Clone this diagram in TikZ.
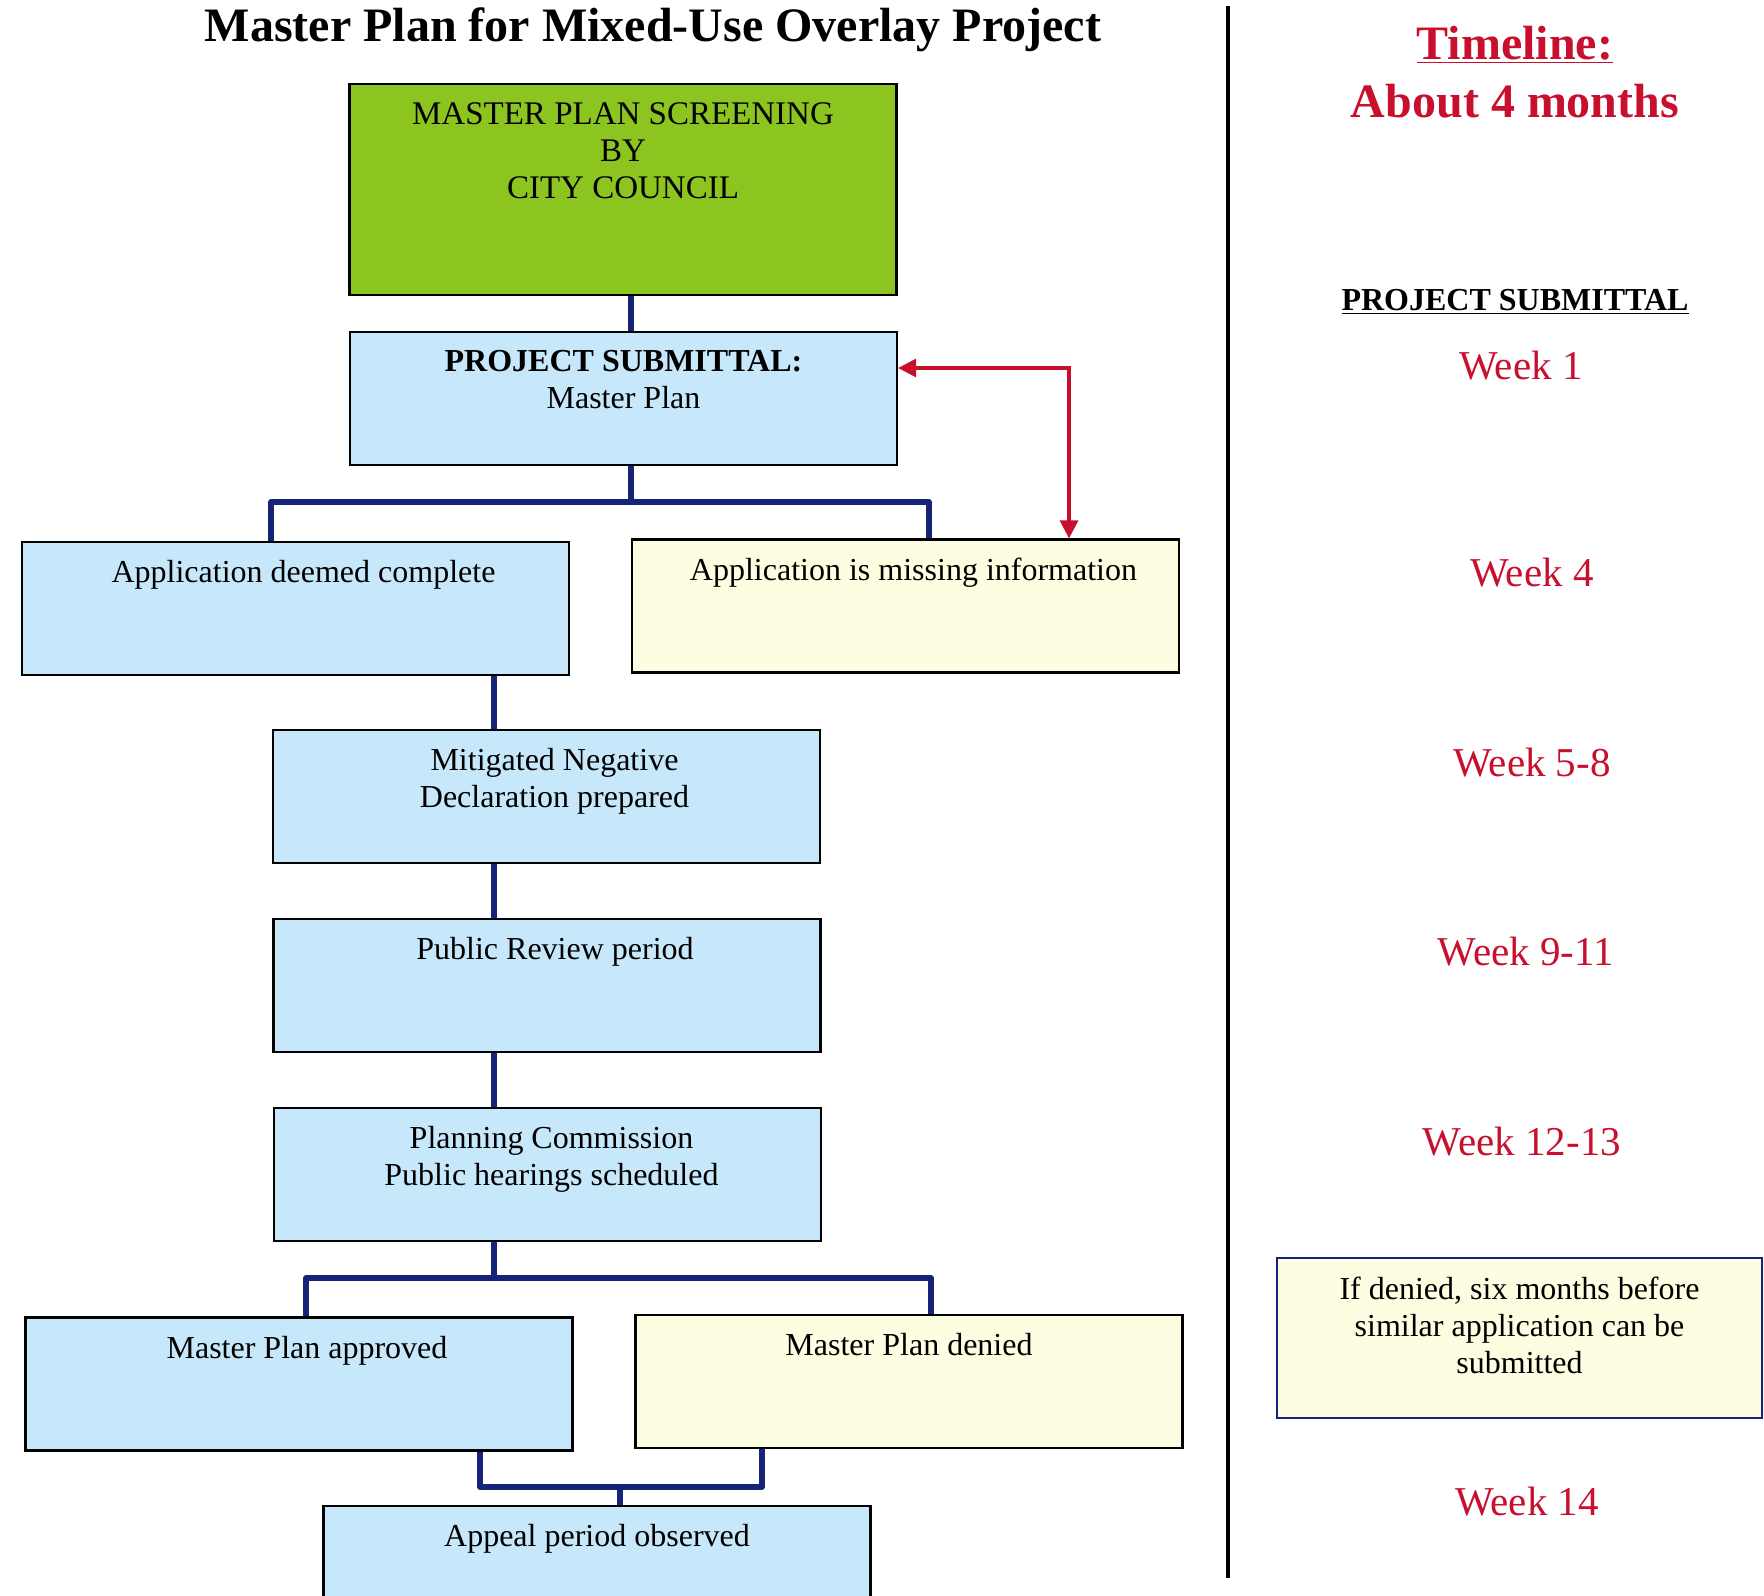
\documentclass[tikz,border=0pt]{standalone}
\usepackage{fontspec}
\setmainfont{Liberation Serif}
\usetikzlibrary{arrows.meta, positioning, calc}

\definecolor{planGreen}{RGB}{140,196,32}
\definecolor{planBlue}{RGB}{199,232,250}
\definecolor{planCream}{RGB}{253,253,225}
\definecolor{planNavy}{RGB}{22,36,120}
\definecolor{planRed}{RGB}{200,16,46}

\tikzset{
  stage/.style={draw=black, line width=1.1pt, inner sep=0pt,
    minimum width=273.5pt, minimum height=66.5pt},
  bluestage/.style={stage, fill=planBlue},
  creamstage/.style={stage, fill=planCream},
  stagetext/.style={anchor=north, inner sep=0pt, yshift=-9.5pt, align=center,
    font=\fontsize{16}{18.5}\selectfont},
  link/.style={draw=planNavy, line width=2.8pt},
  loopback/.style={draw=planRed, line width=1.6pt,
    {Triangle[width=9pt,length=9pt]}-{Triangle[width=9pt,length=9pt]}},
  weeklabel/.style={text=planRed, font=\fontsize{20.5}{24}\selectfont},
}

\begin{document}
\begin{tikzpicture}[x=0.5pt, y=-0.5pt]
\useasboundingbox (0,0) rectangle (1764,1595);

\node[font=\fontsize{24}{28}\selectfont\bfseries] (title) at (653,30)
  {Master Plan for Mixed-Use Overlay Project};

% flow chart boxes
\node[stage, fill=planGreen, minimum height=105.5pt,
  label={[stagetext, font=\fontsize{16.5}{18.5}\selectfont]north:{MASTER PLAN SCREENING\\BY\\CITY COUNCIL}}]
  (screen) at (623,189.5) {};
\node[bluestage, label={[stagetext]north:{\textbf{PROJECT SUBMITTAL:}\\Master Plan}}]
  (submit) at (623.5,398.5) {};
\node[bluestage, label={[stagetext, xshift=4pt]north:{Application deemed complete}}]
  (complete) at (295.5,608.5) {};
\node[creamstage, label={[stagetext, xshift=4pt]north:{Application is missing information}}]
  (missing) at (905.5,606) {};
\node[bluestage, label={[stagetext, xshift=4pt]north:{Mitigated Negative\\Declaration prepared}}]
  (mnd) at (546.5,796.5) {};
\node[bluestage, label={[stagetext, xshift=4pt]north:{Public Review period}}]
  (review) at (547,985.5) {};
\node[bluestage, label={[stagetext, xshift=2pt]north:{Planning Commission\\Public hearings scheduled}}]
  (hearing) at (547.5,1174.5) {};
\node[bluestage, label={[stagetext, xshift=4pt]north:{Master Plan approved}}]
  (approved) at (299,1384) {};
\node[creamstage, label={[stagetext]north:{Master Plan denied}}]
  (denied) at (909,1381.5) {};
\node[bluestage, label={[stagetext]north:{Appeal period observed}}]
  (appeal) at (597,1572.5) {};

% connectors
\coordinate (trunk) at (631,0);
\coordinate (split) at (631,502);
\coordinate (spine) at (494,0);
\coordinate (split2) at (494,1278);
\coordinate (merge) at (620,1487);
\coordinate (back) at (1069,368);

\draw[link] (trunk |- screen.south) -- (trunk |- submit.north);
\draw[link] (trunk |- submit.south) -- (split);
\draw[link, line join=round] ([xshift=-12.25pt]complete.north) |- (split) -| ([xshift=11.75pt]missing.north);
\draw[loopback] (back -| submit.east) -- (back) -- (back |- missing.north);
\draw[link] (spine |- complete.south) -- (spine |- mnd.north);
\draw[link] (spine |- mnd.south) -- (spine |- review.north);
\draw[link] (spine |- review.south) -- (spine |- hearing.north);
\draw[link] (spine |- hearing.south) -- (split2);
\draw[link, line join=round] ([xshift=3.5pt]approved.north) |- (split2) -| ([xshift=11pt]denied.north);
\draw[link, line join=round] ([xshift=90.5pt]approved.south) |- (merge) -| ([xshift=-73.5pt]denied.south);
\draw[link] (merge) -- (merge |- appeal.north);

% timeline column
\draw[line width=2.3pt] (1228,6) -- (1228,1578);
\node[text=planRed, font=\fontsize{24}{28}\selectfont\bfseries] (timeline) at (1515,45) {\underline{Timeline:}};
\node[text=planRed, font=\fontsize{24}{28}\selectfont\bfseries] (duration) at (1515,101) {About 4 months};
\node[font=\fontsize{16}{19}\selectfont\bfseries] (subhead) at (1515,302) {\underline{PROJECT SUBMITTAL}};
\foreach \i/\x/\y/\txt in {1/1521/366/Week 1, 2/1532/573/Week 4, 3/1532/763/Week 5-8,
    4/1526/952/Week 9-11, 5/1522/1142/Week 12-13, 6/1527/1502/Week 14}
  \node[weeklabel] (week\i) at (\x,\y) {\txt};
\node[creamstage, draw=planNavy, line width=0.9pt, minimum width=242.5pt, minimum height=80pt,
  label={[stagetext]north:{If denied, six months before\\similar application can be\\submitted}}]
  (wait) at (1519.5,1338) {};
\end{tikzpicture}
\end{document}
